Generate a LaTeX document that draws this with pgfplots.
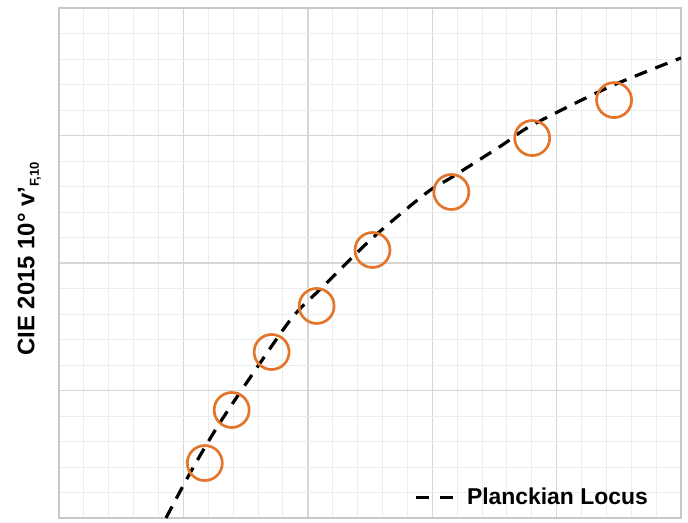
\documentclass[border=0pt]{standalone}
\usepackage{fontspec}
\setmainfont{Liberation Sans}
\usepackage{pgfplots}
\pgfplotsset{compat=1.18}
\definecolor{circorange}{RGB}{228,118,44}
\definecolor{majgrid}{RGB}{214,214,214}
\definecolor{mingrid}{RGB}{236,236,236}
\definecolor{frame}{RGB}{200,200,200}
\begin{document}
\begin{tikzpicture}
\begin{axis}[
  scale only axis,
  width=622bp, height=510bp,
  xmin=0, xmax=5, ymin=0, ymax=4,
  xtick={0,1,2,3,4,5}, ytick={0,1,2,3,4},
  minor x tick num=4, minor y tick num=4,
  xticklabels={}, yticklabels={},
  major tick length=0pt, minor tick length=0pt,
  grid=both,
  major grid style={majgrid, line width=1.4bp},
  minor grid style={mingrid, line width=0.9bp},
  axis line style={frame, line width=1.6bp},
  ylabel={\bfseries CIE 2015 10° v'\raisebox{-0.35ex}{\fontsize{13}{13}\selectfont F,10}},
  ylabel style={at={(axis description cs:-0.029,0.508)}, anchor=south, inner sep=0pt, font=\fontsize{24}{24}\selectfont},
  legend style={draw=none, fill=none, at={(axis description cs:0.955,0.015)}, anchor=south east,
    font=\bfseries\fontsize{23}{23}\selectfont},
  legend cell align=left,
]
\addplot[only marks, mark=o, mark size=17.5bp, mark options={circorange, line width=2.7bp}, forget plot]
coordinates {
(1.172,0.431)
(1.388,0.847)
(1.709,1.302)
(2.071,1.663)
(2.520,2.102)
(3.154,2.557)
(3.804,2.980)
(4.462,3.278)
};
\addplot[black, smooth, line width=3.2bp, dash pattern=on 13bp off 9bp,
  legend image code/.code={\draw[black, line width=3.2bp, solid] (0bp,0bp) -- (13bp,0bp); \draw[black, line width=3.2bp, solid] (24bp,0bp) -- (37bp,0bp); \path[draw=none] (0bp,0bp) -- (49bp,0bp);}]
coordinates {
(0.860,0.000)
(1.067,0.376)
(1.292,0.745)
(1.589,1.176)
(1.878,1.576)
(2.119,1.812)
(2.520,2.196)
(2.953,2.549)
(3.162,2.675)
(3.563,2.925)
(3.804,3.082)
(4.422,3.380)
(5.000,3.608)
};
\addlegendentry{Planckian Locus}
\end{axis}
\pgfresetboundingbox
\path (current axis.south west) ++(-59bp,-5bp) coordinate (bl);
\path (current axis.north east) ++(7bp,8bp) coordinate (tr);
\path[use as bounding box] (bl) rectangle (tr);
\end{tikzpicture}
\end{document}
